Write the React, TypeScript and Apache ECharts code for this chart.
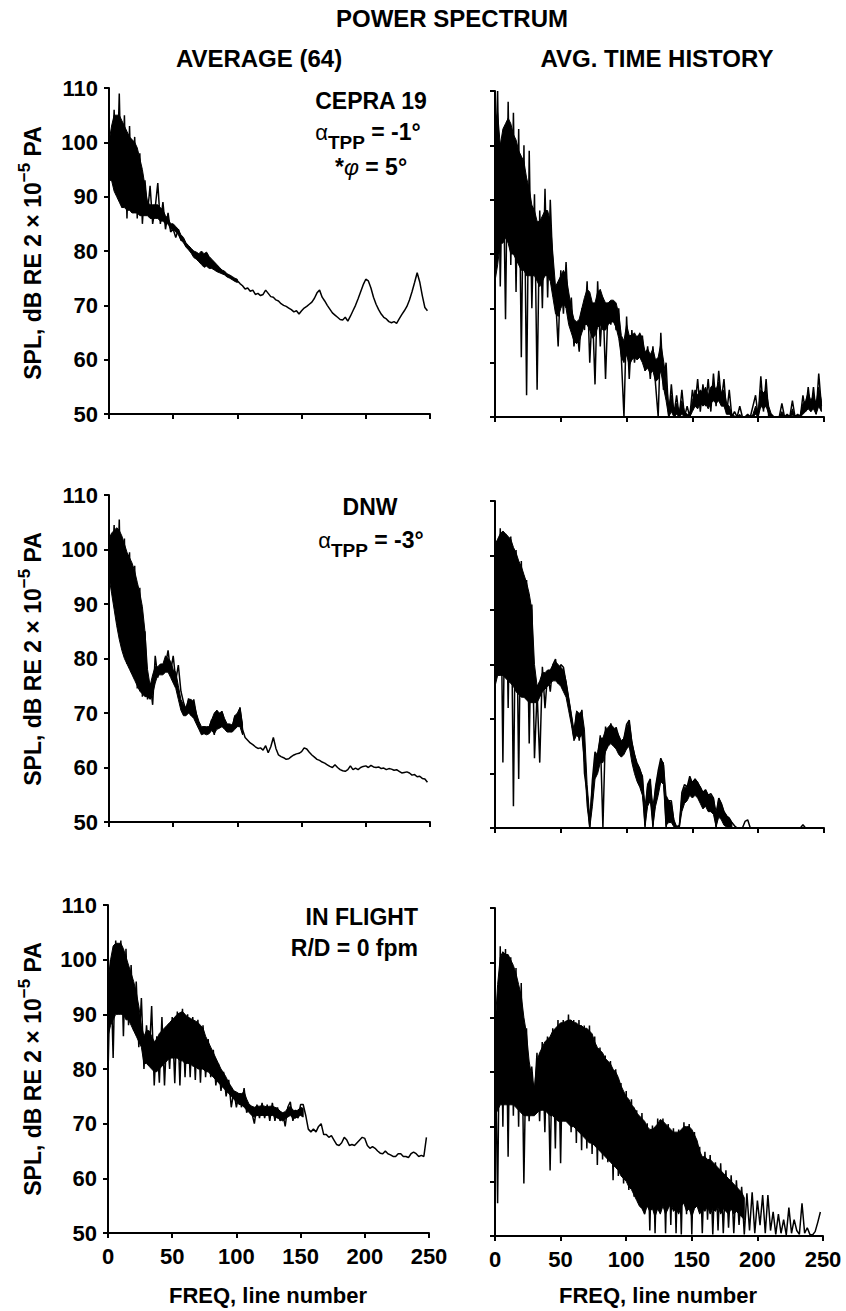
import React, { useEffect, useRef } from "react";
import * as echarts from "echarts";

// FREQ line numbers (every second line, 0..248)
const LINES = Array.from({ length: 125 }, (_, i) => i * 2);

// CEPRA 19 – power spectrum average (64)
const cepraAvg = [
  100, 93, 106, 91, 109, 88, 105, 86, 103, 87,
  101, 86, 98, 85, 93, 87, 92, 85, 88, 92.5,
  85, 89, 84, 87, 83.5, 84, 82.5, 84, 82, 82,
  81, 80.5, 80, 79.5, 79.2, 78.8, 79.5, 77.2, 79.5, 77,
  78, 77, 76.8, 76.5, 76, 76, 75.5, 75.3, 75, 74.6,
  74.5, 74, 73.6, 73, 73.2, 72.6, 72.8, 72, 72.2, 71.8,
  72, 72.8, 72.2, 71.6, 71.5, 71, 70.8, 70.3, 70, 69.8,
  69.5, 69.2, 68.8, 69, 68.4, 69, 69.5, 69.8, 70.2, 70.6,
  71.3, 72.3, 72.8, 71.5, 70.8, 70, 69.3, 68.6, 68.2, 67.8,
  67.4, 67.3, 67.8, 67.1, 68, 69, 70, 71.2, 72.5, 73.8,
  74.8, 74.5, 73.2, 71.5, 70.2, 69.2, 68.4, 67.8, 67.5, 67,
  66.8, 67, 66.7, 67.5, 68.3, 69, 69.8, 71, 72.5, 74.2,
  76, 74.3, 71.8, 69.6, 69,
];
// solid black core of the dense part (lines 0..100)
const cepraAvgCoreTop = [
  100, 103, 105, 105, 105, 104, 103, 102, 101, 100.5,
  100, 99, 97, 95, 92, 89, 88.5, 88.5, 88.5, 88.5,
  88, 87.5, 86.5, 86, 85, 85, 84.5, 84, 83, 82.5,
  81.5, 81, 80.5, 80, 79.8, 79.5, 80, 79.5, 79.8, 79,
  78.5, 78, 77.5, 77, 76.5, 76.3, 75.8, 75.6, 75.3, 75,
  74.8,
];
const cepraAvgCoreBottom = [
  93, 93, 91, 90, 89, 88, 88, 87.5, 87.5, 87,
  87, 87, 86.5, 86.5, 86.5, 86.5, 86, 86, 86, 86,
  85.5, 85.5, 85, 85, 84, 84, 83.5, 83, 82, 81.5,
  80.7, 80.2, 79.6, 78.8, 78.5, 78, 77.5, 77, 77.2, 76.8,
  76.8, 76.5, 76.2, 76, 75.8, 75.6, 75.2, 75, 74.7, 74.4,
  74.2,
];

// CEPRA 19 – average time history
const cepraTime = [
  95, 110, 74, 101, 68, 108, 78, 106, 73, 103,
  61, 100, 54, 99, 70, 91, 55, 88, 70, 92,
  72, 90, 77, 72, 63, 77, 69, 78.5, 68, 72,
  63, 67, 62, 70, 66, 75, 60, 70, 56, 75,
  63, 72, 57, 71, 67, 71, 66, 70, 61, 50,
  68.5, 57, 66, 60, 65, 61, 65, 58.5, 63, 57,
  63, 56, 50, 65.5, 55, 60, 50, 56, 50.5, 54,
  50, 55, 50, 52, 50, 55, 52, 57, 51, 56,
  52, 57, 51, 58, 52, 58.5, 53, 57, 50.5, 55,
  50, 51, 50, 52, 50, 50, 50.5, 50, 52, 54,
  50, 57.5, 51, 57, 50, 50.5, 50, 50, 50, 52.5,
  50, 50.5, 50, 53, 50, 50.5, 50, 54, 51, 55.5,
  51, 55.5, 50.5, 58, 52,
];
// solid black core (lines 0..248)
const cepraTimeCoreTop = [
  104, 106, 100, 103, 104, 105, 104, 102, 101, 99,
  98, 97, 94, 92, 89, 88, 86, 86, 87, 88,
  88, 86, 80, 74, 75, 76, 77, 76, 73, 70,
  68, 67.5, 68, 70, 72, 73.5, 73, 71, 71, 73,
  73.5, 72, 71, 71, 71.5, 71.5, 71, 69, 65, 64,
  67, 65, 65, 65.5, 64.5, 65.5, 64.5, 62, 62.5, 61.5,
  62.5, 60.5, 61, 63.5, 60.5, 57, 52, 54, 51, 52.5,
  51, 53, 51, 50.5, 50.5, 53, 55, 54, 55, 54.5,
  55.5, 54, 55.5, 56, 55, 56.5, 54.5, 55, 52.5, 52,
  50.5, 50.2, 50, 50.5, 50, 50, 50, 50, 50.5, 52,
  51, 55, 54.5, 55, 52, 50.5, 50, 50, 50, 51,
  50, 50, 50, 51.5, 50, 50, 50.5, 52.5, 53, 54.5,
  53, 54, 52.5, 55.5, 53,
];
const cepraTimeCoreBottom = [
  75, 78, 82, 82, 83, 82, 80, 80, 79, 78,
  77, 77, 76, 76, 76, 76, 75, 74, 75, 76,
  76, 75, 72, 69, 68.5, 70, 71, 70, 67, 65.5,
  64, 63.5, 64, 65.5, 67, 67, 66, 64.5, 65, 66.5,
  67, 66, 66, 67, 67.5, 67.5, 66.5, 64.5, 61, 60,
  61.5, 59.5, 60.5, 61, 60.5, 61, 60, 58.5, 59, 58,
  58.5, 56.5, 57, 58.5, 55.5, 53, 50, 51, 50, 50.5,
  50, 50.5, 50, 50, 50, 51, 52, 51.5, 52.5, 52,
  52.5, 51.5, 52.5, 53, 52.5, 53, 52, 52, 50.5, 50.5,
  50, 50, 50, 50, 50, 50, 50, 50, 50, 50.5,
  50, 52, 51.5, 52, 50.5, 50, 50, 50, 50, 50,
  50, 50, 50, 50.3, 50, 50, 50, 50.5, 51, 51.5,
  51, 51.5, 50.5, 52, 51,
];

// DNW – power spectrum average (64)
const dnwAvg = [
  103, 94, 104.5, 88, 105.5, 82, 102, 79, 99.5, 77.5,
  97, 74.5, 93, 73, 85, 72.5, 75.5, 71.5, 80.5, 76.5,
  78.5, 77.5, 78.8, 81.5, 77.5, 80.5, 76, 78.8, 74, 72,
  70.5, 72.7, 69.5, 72.5, 69.7, 67.8, 66.8, 67.5, 66.5, 67.2,
  68.8, 66, 70.5, 67.5, 70.3, 68, 67, 67.5, 66.8, 69.5,
  68, 71, 67, 65.5, 65, 64.5, 64.2, 63.8, 63.5, 63.6,
  63.2, 64, 62.7, 63.8, 65.5, 63.5, 62.3, 62, 61.8, 61.5,
  61.6, 62, 62.3, 62.5, 62.6, 62.9, 63.6, 63.4, 62.8, 62.3,
  61.9, 61.5, 61.3, 61, 60.8, 60.5, 60.2, 60, 60.5, 60,
  59.6, 59.4, 59.3, 59.6, 60.3, 59.6, 59.9, 59.6, 60, 60.2,
  60.3, 60, 60.4, 60.1, 60, 60.1, 59.8, 59.9, 59.6, 59.8,
  59.7, 59.5, 59.6, 59.3, 59, 59.1, 59.2, 59, 58.6, 58.7,
  58.3, 58.4, 58, 57.9, 57.3,
];
// solid black core (lines 0..104)
const dnwAvgCoreTop = [
  102, 103, 103.5, 104, 103.5, 102.5, 101, 99.5, 98.5, 97.5,
  96, 94, 92, 89.5, 85, 78, 75, 77, 78.5, 78.5,
  79, 79, 80.5, 80, 79.5, 78, 77.5, 75, 72.5, 71.5,
  71, 72.5, 72.5, 72, 70, 68.5, 67.5, 67.5, 67.5, 67.5,
  68.8, 70, 70.5, 70, 70.3, 69, 68, 68, 67.8, 69.5,
  70, 71, 68,
];
const dnwAvgCoreBottom = [
  95, 92, 89, 86, 83.5, 81.5, 80, 79, 78, 77,
  76, 75, 74, 73.5, 73, 73, 72.5, 73.5, 75.5, 77,
  77, 77, 77.5, 77.5, 76.5, 75.5, 74.5, 72.5, 70.5, 69.5,
  69.5, 70, 69.5, 69, 68, 67, 66, 66.2, 66, 66.2,
  66.8, 66.2, 67, 67.2, 67.5, 67, 66.5, 66.5, 66.5, 67,
  67.5, 67.5, 66,
];

// DNW – average time history
const dnwTime = [
  103, 78, 105, 62, 104, 72, 103.5, 54, 101, 59,
  99, 74, 95.5, 65.5, 91, 62.8, 75, 62, 79.6, 72,
  78.5, 75, 80, 81, 76.5, 80, 79.5, 76.5, 73.5, 70.4,
  66.5, 71, 66, 71.7, 60, 56.4, 50, 58.8, 64, 62.5,
  67, 50, 68.6, 66, 69.2, 66.5, 68.5, 66.8, 65, 66.5,
  69, 69.8, 65.5, 63.5, 61.3, 60.5, 59.5, 50, 58, 59,
  50, 57.5, 60.5, 62.8, 61.5, 50, 55, 55, 51, 50,
  50, 56.5, 58, 57.5, 59.5, 58.2, 59, 58.2, 57.5, 56.5,
  57, 56, 56.3, 55.5, 50, 55.5, 54.5, 53, 52.2, 51.8,
  51, 50.4, 50, 50, 50, 51.2, 51.5, 50, 50, 50,
  50, 50, 50, 50, 50, 50, 50, 50, 50, 50,
  50, 50, 50, 50, 50, 50, 50, 50.6, 50, 50,
  50, 50, 50, 50, 50,
];
// solid black core (lines 0..180)
const dnwTimeCoreTop = [
  102, 103, 104, 104.5, 104, 103.5, 103, 101.5, 100.5, 99,
  98, 96.5, 95, 93, 90, 80, 76, 77, 78.5, 78.5,
  79, 79, 80, 80.5, 80, 79.5, 79, 77, 74, 71,
  68, 71.5, 71, 71.5, 68, 58, 52, 58, 63, 64,
  66.5, 66.5, 68, 68.5, 69, 68.5, 68, 67, 66, 66.5,
  68.5, 69.5, 66, 63.5, 62, 61, 59.5, 54, 58, 58.5,
  54, 57.5, 60, 62.5, 62, 56, 55, 54.5, 51.5, 50.3,
  50.5, 56, 57.5, 57.5, 59, 58.5, 59, 58.5, 57.5, 56.5,
  57, 56, 56, 55.5, 53, 55.5, 54.5, 53, 52.3, 51.8,
  51,
];
const dnwTimeCoreBottom = [
  76, 78, 78, 78, 77.5, 77, 76.5, 76, 75, 74.5,
  74, 74, 73.5, 73, 73, 73, 73, 74, 75, 75.5,
  76, 76.5, 77, 77, 76.5, 76, 75, 74, 71.5, 69,
  66, 67, 66.5, 67, 62, 54, 50, 54, 59, 60,
  62, 62, 64, 65, 65.5, 65, 64.5, 63.5, 63, 63.5,
  64.5, 65, 62, 60, 58.5, 57.5, 56, 50.5, 54, 55,
  50.5, 54, 56, 58.5, 58, 50.5, 51, 51, 50.2, 50,
  50, 53, 54.5, 55, 56, 55.5, 56, 55.5, 54.5, 53.5,
  54, 53, 53, 52.5, 50.3, 52, 51.5, 50.5, 50.2, 50.1,
  50,
];

// IN FLIGHT – power spectrum average (64)
const flightAvg = [
  79, 100, 82, 103.5, 90, 103.5, 86, 102, 88, 99,
  87, 96, 84, 93, 80, 88, 82, 91.5, 77, 86,
  77.5, 89.5, 77, 87.5, 80, 89.5, 77.4, 90.5, 77, 91,
  78.5, 90, 78.5, 89.5, 78, 89, 77.5, 88, 78.5, 85.5,
  78.5, 83.5, 77, 81, 76, 79.5, 75, 78, 73, 76,
  73, 75.5, 73, 76.5, 72, 73.5, 72, 70, 73.5, 71,
  73.8, 71, 73.5, 70.5, 73.8, 70.5, 73, 70.5, 72, 69.5,
  73, 74, 70.5, 72.5, 71, 73.5, 73.5, 71.5, 69, 68.5,
  69, 68.5, 69.5, 70, 68, 68, 67.5, 67.8, 67, 66.2,
  66, 66.5, 67.5, 67, 66, 66.2, 66, 66.5, 67, 67.5,
  67.3, 66, 65.5, 65.8, 65.5, 65, 64.6, 64.5, 65, 64.5,
  64.3, 64, 64, 64.5, 64.5, 64, 64, 63.8, 64.5, 64.8,
  64.5, 64, 64.2, 64, 67.5,
];
// solid black core (lines 0..152)
const flightAvgCoreTop = [
  96, 100, 102.5, 103, 103, 103, 102, 100.5, 99, 97.5,
  96, 94, 91.5, 88, 86, 87, 87, 86, 85, 85.5,
  86.5, 87, 87.5, 88, 88.5, 89, 89.5, 90, 90.3, 90.5,
  90, 89.5, 89.3, 89, 88.8, 88.5, 88, 87.5, 86, 85,
  84, 83, 82, 81, 80, 79.3, 78.5, 77.5, 76.8, 76,
  75.8, 75.5, 75.5, 75.8, 74.5, 73.5, 73.2, 73, 73.2, 73.2,
  73.3, 73.2, 73, 73.2, 73.2, 73, 72.8, 72.3, 72, 72.2,
  72.8, 73.2, 72.5, 72.3, 72.5, 73, 72.8,
];
const flightAvgCoreBottom = [
  86, 88, 89, 90, 90, 90, 90, 89, 89, 88,
  87, 86, 85, 84, 81, 81, 80.5, 80, 79.5, 79.5,
  80, 80.5, 81, 81.5, 82, 82, 82, 82, 81.5, 81.5,
  81, 81, 81, 80.5, 80.5, 80, 80, 80, 79.5, 79.5,
  79, 78.5, 78, 77.5, 77, 76.5, 76, 75.5, 75, 74.5,
  74, 73.5, 73.5, 73, 72.5, 72, 71.5, 71.2, 71.5, 71.5,
  71.5, 71.5, 71.5, 71.5, 71.5, 71.3, 71, 70.8, 70.5, 70.8,
  71.2, 71.5, 71, 71, 71.3, 71.5, 71.2,
];

// IN FLIGHT – average time history
const flightTime = [
  90, 56, 103, 70, 102.5, 64.5, 101, 72, 99, 70,
  96.3, 59.6, 88, 71, 81, 75, 83.5, 71, 85.5, 69,
  86.5, 62, 88, 66, 89.5, 63.3, 89.5, 73.5, 90.5, 69,
  89.5, 67, 89.5, 65.7, 88.5, 66, 88.5, 65, 86.5, 63,
  84.5, 64, 83, 63.5, 82, 60.2, 80.5, 61, 78, 59.6,
  76.5, 58.4, 75, 57.2, 73, 56, 72.5, 54, 70.6, 51,
  70.2, 50.5, 71.5, 55, 71.5, 50.5, 70.5, 52, 69.7, 50.5,
  69.5, 50.3, 70.8, 54, 70.5, 50.3, 69, 56, 66.3, 50.5,
  65.4, 53, 64.8, 50.3, 63.5, 51, 63.3, 50.5, 62, 51.5,
  61.1, 50.5, 60.2, 52, 59, 50.3, 57.8, 51, 58, 50.5,
  56.5, 52, 57.5, 50.5, 57.5, 51, 54.4, 50.3, 54, 50.5,
  53, 50.2, 55.2, 50.5, 53, 51, 50.3, 56, 50.5, 51.5,
  50.3, 50.2, 50.8, 52.5, 54.4,
];
// solid black core (lines 0..190)
const flightTimeCoreTop = [
  88, 96, 101, 102, 101.5, 101.5, 100.5, 99.5, 98, 96,
  94, 90, 87, 82, 79, 77, 82, 83.5, 84.5, 85.5,
  86, 86.5, 87.5, 88, 88.5, 89, 89, 89.3, 89.5, 89.5,
  89, 89, 88.5, 88.5, 88, 88, 87.5, 87, 85.5, 84.5,
  84, 83.5, 82.5, 82, 81.5, 80.5, 80, 79, 77.5, 76.5,
  75.5, 75, 74, 73.5, 72.5, 72, 71.5, 71, 70, 69.5,
  69.5, 70, 70.5, 71.3, 71, 70.5, 70, 69.5, 69, 69,
  69, 69.5, 70, 70, 70, 69.5, 68.5, 67.5, 65.5, 64.5,
  64.5, 64, 64, 63.5, 63, 62.5, 62, 61.5, 61, 60.5,
  60, 59.5, 59, 58.5, 58, 57,
];
const flightTimeCoreBottom = [
  72, 73, 74, 74, 74, 74, 74, 74, 73.5, 73,
  72.5, 72, 72, 72, 72, 72, 72.5, 73, 73, 73,
  72.5, 72, 72, 71.5, 71, 71, 71, 71, 70.5, 70,
  70, 69.5, 69, 68.5, 68, 67.5, 67, 67, 66.5, 66,
  65.5, 65, 64.5, 64, 63.5, 63, 62.5, 62, 61, 60.5,
  60, 59, 58.5, 57.5, 56.5, 55.5, 55, 54, 55.5, 54.5,
  55, 53.5, 55, 54, 55.5, 54, 55, 56, 54.5, 55,
  54, 55.5, 56, 54.5, 55, 53.5, 55, 55.5, 54, 55,
  54.5, 55.5, 54, 55, 54.5, 55.5, 54, 55, 54.5, 54,
  55, 54, 54.5, 54, 53.5, 53,
];

const X_MIN = 0;
const X_MAX = 250;
const X_STEP = 50;
const Y_MIN = 50;
const Y_MAX = 110;
const Y_STEP = 10;

const FONT = "Liberation Sans, Arial, Helvetica, sans-serif";

export default function App() {
  const ref = useRef<HTMLDivElement>(null);

  useEffect(() => {
    const chart = echarts.init(ref.current!, null, { renderer: "svg" });

    const panels = [
      { data: cepraAvg, top_: cepraAvgCoreTop, bot_: cepraAvgCoreBottom, left: 109, top: 88, width: 321, height: 326, yLab: true, xLab: false },
      { data: cepraTime, top_: cepraTimeCoreTop, bot_: cepraTimeCoreBottom, left: 495, top: 91, width: 329, height: 326, yLab: false, xLab: false },
      { data: dnwAvg, top_: dnwAvgCoreTop, bot_: dnwAvgCoreBottom, left: 109, top: 495, width: 321, height: 327, yLab: true, xLab: false },
      { data: dnwTime, top_: dnwTimeCoreTop, bot_: dnwTimeCoreBottom, left: 495, top: 501, width: 329, height: 327, yLab: false, xLab: false },
      { data: flightAvg, top_: flightAvgCoreTop, bot_: flightAvgCoreBottom, left: 108, top: 905, width: 321, height: 328, yLab: true, xLab: true },
      { data: flightTime, top_: flightTimeCoreTop, bot_: flightTimeCoreBottom, left: 495, top: 908, width: 328, height: 328, yLab: false, xLab: true },
    ];

    const axisLine = { show: true, onZero: false, lineStyle: { color: "#000", width: 2 } };
    const axisTick = { show: true, inside: false, length: 5, lineStyle: { color: "#000", width: 2 } };
    const labelStyle = { color: "#000", fontSize: 22, fontWeight: "bold" as const, fontFamily: FONT };

    const grid = panels.map((p) => ({ left: p.left, top: p.top, width: p.width, height: p.height }));
    const xAxis = panels.map((p, i) => ({
      type: "value" as const,
      gridIndex: i,
      min: X_MIN,
      max: X_MAX,
      interval: X_STEP,
      axisLine,
      axisTick,
      axisLabel: { show: p.xLab, margin: 12, ...labelStyle },
      splitLine: { show: false },
    }));
    const yAxis = panels.map((p, i) => ({
      type: "value" as const,
      gridIndex: i,
      min: Y_MIN,
      max: Y_MAX,
      interval: Y_STEP,
      axisLine,
      axisTick,
      axisLabel: { show: p.yLab, margin: 11, ...labelStyle },
      splitLine: { show: false },
    }));

    const bands = panels.map((p, i) => ({
      type: "custom" as const,
      xAxisIndex: i,
      yAxisIndex: i,
      silent: true,
      data: [[LINES[0], p.bot_[0]]],
      renderItem: (_params: any, api: any) => {
        const pts: number[][] = [];
        for (let j = 0; j < p.top_.length; j++) pts.push(api.coord([LINES[j], p.top_[j]]));
        for (let j = p.bot_.length - 1; j >= 0; j--) pts.push(api.coord([LINES[j], p.bot_[j]]));
        return {
          type: "polygon",
          shape: { points: pts },
          style: { fill: "#000", stroke: "#000", lineWidth: 1 },
        };
      },
    }));

    const lines = panels.map((p, i) => ({
      type: "line" as const,
      xAxisIndex: i,
      yAxisIndex: i,
      data: LINES.map((x, j) => [x, p.data[j]]),
      showSymbol: false,
      symbol: "none",
      lineStyle: { color: "#000", width: 1.5 },
      emphasis: { disabled: true },
    }));

    const t = (x: number, y: number, text: string, size: number, align = "center", extra: any = {}) => ({
      type: "text",
      x,
      y,
      silent: true,
      style: {
        text,
        fill: "#000",
        fontSize: size,
        fontWeight: "bold",
        fontFamily: FONT,
        align,
        textAlign: align,
        verticalAlign: "middle",
        textVerticalAlign: "middle",
        ...extra,
      },
    });

    const mainTok = { fontSize: 23, fontWeight: "bold", fontFamily: FONT, fill: "#000", lineHeight: 40 };
    const alphaRich = {
      a: { fontSize: 22, fontWeight: "normal", fontFamily: FONT, fill: "#000", lineHeight: 40 },
      s: { fontSize: 19, fontWeight: "bold", fontFamily: FONT, fill: "#000", lineHeight: 20, verticalAlign: "bottom" },
      m: mainTok,
    };
    const yLabelRich = {
      m: { fontSize: 23, fontWeight: "bold", fontFamily: FONT, fill: "#000", lineHeight: 34 },
      s: { fontSize: 17, fontWeight: "bold", fontFamily: FONT, fill: "#000", lineHeight: 16, verticalAlign: "top" },
    };

    const yLabel = (cy: number) => ({
      type: "text",
      x: 33,
      y: cy,
      rotation: Math.PI / 2,
      silent: true,
      style: {
        text: "{m|SPL, dB RE 2 × 10}{s|−5}{m| PA}",
        rich: yLabelRich,
        fill: "#000",
        align: "center",
        textAlign: "center",
        verticalAlign: "middle",
        textVerticalAlign: "middle",
      },
    });

    const graphic = [
      t(452, 18, "POWER SPECTRUM", 24),
      t(259, 58, "AVERAGE (64)", 24),
      t(657, 58, "AVG. TIME HISTORY", 24),
      t(371, 101, "CEPRA 19", 23),
      t(368, 132, "{a|α}{s|TPP}{m| = -1°}", 23, "center", { rich: alphaRich }),
      t(371, 167, "{p|*}{f|φ}{m| = 5°}", 23, "center", {
        rich: {
          p: mainTok,
          f: { fontSize: 23, fontStyle: "italic", fontWeight: "normal", fontFamily: FONT, fill: "#000", lineHeight: 40 },
          m: mainTok,
        },
      }),
      t(370, 507, "DNW", 23),
      t(371, 540, "{a|α}{s|TPP}{m| = -3°}", 23, "center", { rich: alphaRich }),
      t(418, 917, "IN FLIGHT", 23, "right"),
      t(418, 948, "R/D = 0 fpm", 23, "right"),
      yLabel(253),
      yLabel(659),
      yLabel(1069),
      t(268, 1295, "FREQ, line number", 22),
      t(658, 1295, "FREQ, line number", 22),
    ];

    chart.setOption({
      animation: false,
      backgroundColor: "#fff",
      grid,
      xAxis,
      yAxis,
      series: [...bands, ...lines],
      graphic,
    });

    return () => chart.dispose();
  }, []);

  return (
    <div
      ref={ref}
      style={{ position: "absolute", left: 0, top: 0, width: 846, height: 1311, background: "#fff" }}
    />
  );
}
